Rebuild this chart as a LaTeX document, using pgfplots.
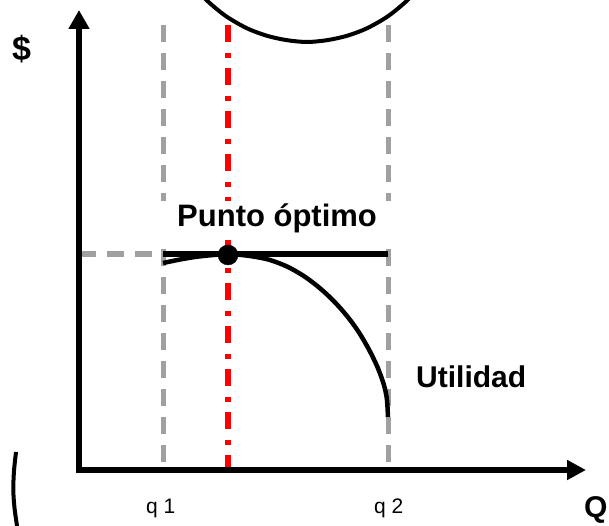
\documentclass[border=0pt]{standalone}
\usepackage{pgfplots}
\pgfplotsset{compat=1.18}
\usetikzlibrary{arrows.meta}
\usepackage{fontspec}
\setmainfont{Liberation Sans}
\definecolor{guide}{RGB}{160,160,160}
\begin{document}
\begin{tikzpicture}
\begin{axis}[
  scale only axis, width=609pt, height=526pt,
  xmin=0, xmax=609, ymin=0, ymax=526, y dir=reverse,
  hide axis, clip=false,
]
% guide lines at q1 and q2
\addplot[guide, line width=5pt, dash pattern=on 17pt off 11pt] coordinates {(163,25) (163,470)};
\addplot[guide, line width=5pt, dash pattern=on 17pt off 11pt] coordinates {(388,25) (388,470)};
\addplot[guide, line width=5pt, dash pattern=on 17pt off 11pt] coordinates {(79,254) (163,254)};
% optimum quantity
\addplot[red, line width=5.5pt, dash pattern=on 17pt off 11pt on 5pt off 10pt] coordinates {(228,25) (228,470)};
% U-shaped curve at the top
\addplot[black, line width=4pt, smooth] coordinates {
  (197,-10) (202,-4.4) (212,5.1) (227,16.9) (247,28.3) (267,35.8) (287,40.2) (307,42)
  (327,40.2) (347,35.8) (367,28.3) (387,16.9) (402,5.1) (412,-4.4) (417,-10)};
% profit curve
\addplot[black, line width=4.5pt, smooth, tension=0.5] coordinates {
  (163,263) (180,259.5) (195,257) (210,255.3) (228,254) (240,254.8) (255,256.8)
  (270,260) (287,266.5) (303,275.5) (316,285) (327,294.5) (337,304.5) (347,316)
  (356,328) (363,339) (370,351.5) (377,366) (382,379) (385,389) (387,400) (388,417)};
% tangent line
\addplot[black, line width=5pt] coordinates {(163,254) (388,254)};
% bracket at bottom left
\addplot[black, line width=4pt, smooth] coordinates {(16,452) (14,471) (13.3,490) (14.5,508) (17,526) (18,535)};
% axes
\addplot[black, line width=6.5pt, -{Triangle[length=19pt,width=20pt]}] coordinates {(79,473) (79,10)};
\addplot[black, line width=6.5pt, -{Triangle[length=19pt,width=19pt]}] coordinates {(76,470) (586,470)};
% optimum point
\addplot[black, only marks, mark=*, mark size=10pt] coordinates {(228,255)};
% labels
\node[fill=white, inner sep=0pt, minimum width=236pt, minimum height=37pt] at (axis cs:275.5,219.5) {};
\node[anchor=base west, inner sep=0pt, font=\fontsize{31}{37}\selectfont\bfseries] at (axis cs:177,227) {Punto óptimo};
\node[anchor=base west, inner sep=0pt, font=\fontsize{30}{36}\selectfont\bfseries] at (axis cs:416,387) {Utilidad};
\node[anchor=base west, inner sep=0pt, font=\fontsize{34}{40}\selectfont\bfseries] at (axis cs:12,61) {\$};
\node[anchor=base west, inner sep=0pt, font=\fontsize{30}{36}\selectfont\bfseries] at (axis cs:584,517) {Q};
\node[anchor=base west, inner sep=0pt, font=\fontsize{21}{25}\selectfont] at (axis cs:146,513) {q 1};
\node[anchor=base west, inner sep=0pt, font=\fontsize{21}{25}\selectfont] at (axis cs:374,513) {q 2};
\end{axis}
\pgfresetboundingbox
\useasboundingbox (current axis.south west) rectangle (current axis.north east);
\end{tikzpicture}
\end{document}
